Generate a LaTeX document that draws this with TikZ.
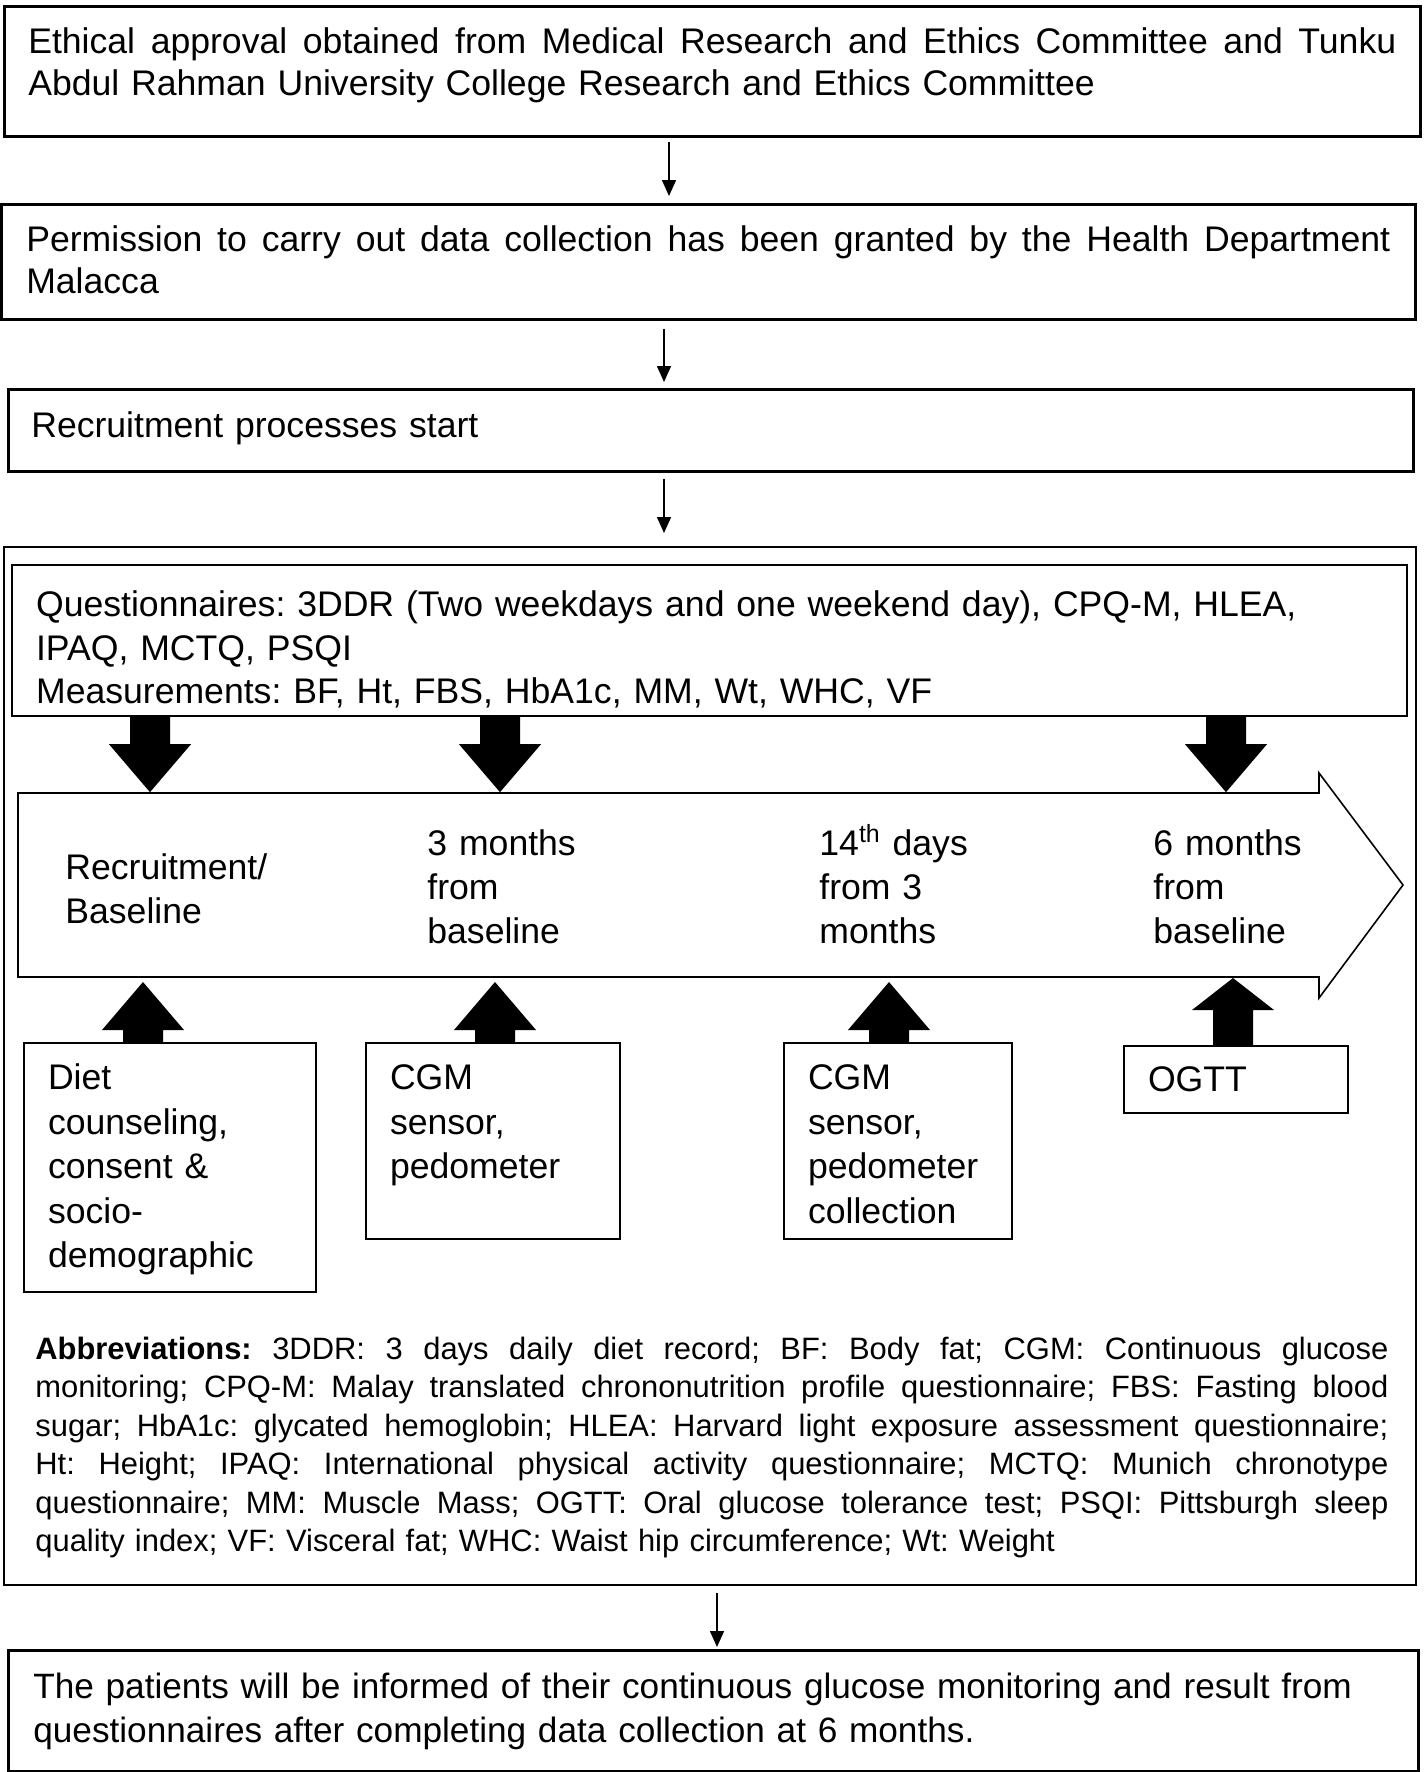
\documentclass[tikz,border=0pt]{standalone}
\usepackage{fontspec}
\setmainfont{Liberation Sans}
\usetikzlibrary{arrows.meta}
\newcommand\jline[1]{\leavevmode\hbox to\linewidth{\spaceskip=0.278em plus 1fil\relax #1}}
\frenchspacing
\begin{document}
\begin{tikzpicture}[x=0.5pt,y=-0.5pt,
  box/.style={draw, line width=1.3pt, anchor=north west, inner ysep=0pt, align=left,
     font=\frenchspacing\fontsize{17.8pt}{21pt}\selectfont},
  lowbox/.style={box, line width=1pt, font=\fontsize{17.8pt}{22.2pt}\selectfont,
     inner xsep=12pt, text height=23.4pt},
  lbl/.style={anchor=base west, inner sep=0pt, text width=200pt, align=left,
     font=\fontsize{17.8pt}{22pt}\selectfont},
  thinarrow/.style={draw, line width=0.8pt, -{Triangle[length=8pt,width=7pt]}},
  blockarrow/.style={fill=black}
]
\useasboundingbox (0,0) rectangle (1424,1772);

% x positions
\coordinate (a1) at (669,0);
\coordinate (a2) at (664,0);
\coordinate (a4) at (717,0);
\coordinate (d1) at (150,0);
\coordinate (d2) at (500,0);
\coordinate (d3) at (1226,0);
\coordinate (u1) at (143,0);
\coordinate (u2) at (495,0);
\coordinate (u3) at (889,0);
\coordinate (u4) at (1233,0);

% top flow boxes
\node[box, inner xsep=12pt, text width=684pt, text height=23.4pt, text depth=41.6pt] (b1) at (3,5)
 {\jline{Ethical approval obtained from Medical Research and Ethics Committee and Tunku}\\
  Abdul Rahman University College Research and Ethics Committee};

\node[box, inner xsep=12.5pt, text width=682pt, text height=23.4pt, text depth=34.1pt] (b2) at (0,203)
 {\jline{Permission to carry out data collection has been granted by the Health Department}\\
  Malacca};

\node[box, inner xsep=11.5pt, text width=679.5pt, text height=23.9pt, text depth=17.1pt] (b3) at (7,388)
 {Recruitment processes start};

% big container
\node[draw, line width=1.1pt, anchor=north west, inner sep=0pt, minimum width=706pt, minimum height=519pt] (big) at (3,546) {};

% questionnaire box
\node[box, line width=1.1pt, inner xsep=12pt, text width=673.5pt, text height=25.9pt, text depth=49.6pt,
      font=\fontsize{17.8pt}{21.6pt}\selectfont] (q) at (11,564)
 {Questionnaires: 3DDR (Two weekdays and one weekend day), CPQ-M, HLEA,\\
  IPAQ, MCTQ, PSQI\\
  Measurements: BF, Ht, FBS, HbA1c, MM, Wt, WHC, VF};

% timeline arrow
\draw[line width=0.8pt] (18,793) -- (1319,793) -- (1319,773) -- (1403,885) -- (1319,998) -- (1319,977) -- (18,977) -- cycle;
\node[lbl] (t1) at (65,879) {Recruitment/\\Baseline};
\node[lbl] (t2) at (427,855) {3 months\\from\\baseline};
\node[lbl] (t3) at (819,855) {14\textsuperscript{th} days\\from 3\\months};
\node[lbl] (t4) at (1153,855) {6 months\\from\\baseline};

% lower boxes
\node[lowbox, text width=122pt, text depth=101.1pt] (bA) at (23,1042)
 {Diet\\counseling,\\consent \&\\socio-\\demographic};
\node[lowbox, text width=103pt, text depth=74.6pt] (bB) at (365,1042)
 {CGM\\sensor,\\pedometer};
\node[lowbox, text width=90pt, text depth=74.6pt] (bC) at (783,1042)
 {CGM\\sensor,\\pedometer\\collection};
\node[lowbox, text width=88pt, text height=22.9pt, text depth=10.6pt] (bD) at (1123,1045)
 {OGTT};

% block arrows down
\foreach \c in {d1,d2,d3}{
  \fill[blockarrow] (q.south -| \c) +(-20,0) -- +(20,0) -- +(20,27) -- +(41,27) -- +(0,75) -- +(-41,27) -- +(-20,27) -- cycle;
}
% block arrows up
\fill[blockarrow] (bA.north -| u1) +(-20,0) -- +(-20,-12) -- +(-41,-12) -- +(0,-60) -- +(41,-12) -- +(20,-12) -- +(20,0) -- cycle;
\fill[blockarrow] (bB.north -| u2) +(-20,0) -- +(-20,-12) -- +(-41,-12) -- +(0,-60) -- +(41,-12) -- +(20,-12) -- +(20,0) -- cycle;
\fill[blockarrow] (bC.north -| u3) +(-20,0) -- +(-20,-12) -- +(-41,-12) -- +(0,-60) -- +(41,-12) -- +(20,-12) -- +(20,0) -- cycle;
\fill[blockarrow] (bD.north -| u4) +(-20,0) -- +(-20,-35) -- +(-41,-35) -- +(0,-67) -- +(41,-35) -- +(20,-35) -- +(20,0) -- cycle;

% abbreviations
\node[anchor=base west, inner sep=0pt, text width=676.5pt, align=left,
      font=\fontsize{15.45pt}{19.25pt}\selectfont] (abbr) at (35,1359)
 {\jline{\textbf{Abbreviations:} 3DDR: 3 days daily diet record; BF: Body fat; CGM: Continuous glucose}\\
  \jline{monitoring; CPQ-M: Malay translated chrononutrition profile questionnaire; FBS: Fasting blood}\\
  \jline{sugar; HbA1c: glycated hemoglobin; HLEA: Harvard light exposure assessment questionnaire;}\\
  \jline{Ht: Height; IPAQ: International physical activity questionnaire; MCTQ: Munich chronotype}\\
  \jline{questionnaire; MM: Muscle Mass; OGTT: Oral glucose tolerance test; PSQI: Pittsburgh sleep}\\
  quality index; VF: Visceral fat; WHC: Waist hip circumference; Wt: Weight};

% final box
\node[box, inner xsep=12.5pt, text width=680pt, text height=23.9pt, text depth=36.6pt,
      font=\fontsize{17.6pt}{22pt}\selectfont] (fin) at (7,1649)
 {The patients will be informed of their continuous glucose monitoring and result from\\
  questionnaires after completing data collection at 6 months.};

% thin arrows
\draw[thinarrow, shorten <=2pt, shorten >=3.5pt] (b1.south -| a1) -- (b2.north -| a1);
\draw[thinarrow, shorten <=4pt, shorten >=3pt] (b2.south -| a2) -- (b3.north -| a2);
\draw[thinarrow, shorten <=3pt, shorten >=6.5pt] (b3.south -| a2) -- (big.north -| a2);
\draw[thinarrow, shorten <=3.5pt, shorten >=1pt] (big.south -| a4) -- (fin.north -| a4);
\end{tikzpicture}
\end{document}
